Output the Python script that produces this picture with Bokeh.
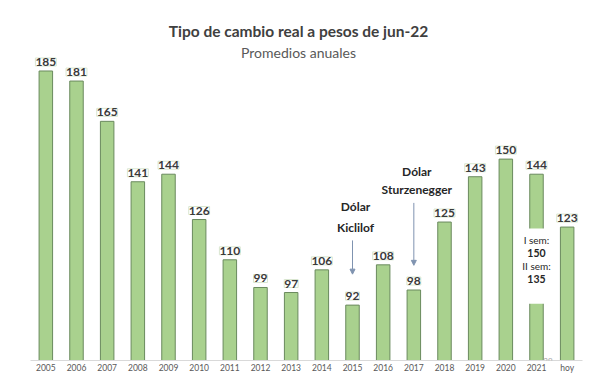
from bokeh.plotting import figure
from bokeh.models import ColumnDataSource, FactorRange, Range1d, LabelSet, Label, Arrow, NormalHead
from bokeh.core.properties import value
from bokeh.embed import file_html
from bokeh.resources import INLINE

# ---- data ----
years = ["2005", "2006", "2007", "2008", "2009", "2010", "2011", "2012", "2013",
         "2014", "2015", "2016", "2017", "2018", "2019", "2020", "2021", "hoy"]
tcr = [185, 181, 165, 141, 144, 126, 110, 99, 97, 106, 92, 108, 98, 125, 143, 150, 144, 123]
sem_labels = ["I sem:", "II sem:"]
sem_values = [150, 135]
ann_cats = ["2015", "2017"]
ann_lines = [["Dólar", "Kiclilof"], ["Dólar", "Sturzenegger"]]
title_text = "Tipo de cambio real a pesos de jun-22"
subtitle_text = "Promedios anuales"

FONT = "Lato"

src = ColumnDataSource(dict(x=years, v=tcr, t=[str(v) for v in tcr]))

p = figure(x_range=FactorRange(factors=years, range_padding=0),
           y_range=Range1d(70, 213.0),
           width=583, height=375, output_backend="svg", toolbar_location=None,
           title_location=None,
           min_border_left=30, min_border_right=1, min_border_top=0, min_border_bottom=0)
p.background_fill_color = "white"
p.border_fill_color = "white"
p.outline_line_color = None
p.xgrid.visible = False
p.ygrid.visible = False
p.yaxis.visible = False

p.xaxis.axis_line_color = "#d9d9d9"
p.xaxis.major_tick_line_color = None
p.xaxis.minor_tick_line_color = None
p.xaxis.major_tick_out = 0
p.xaxis.major_tick_in = 0
p.xaxis.minor_tick_out = 0
p.xaxis.major_label_text_font_size = "8.5px"
p.xaxis.major_label_text_color = "#595959"
p.xaxis.major_label_text_font = FONT
p.xaxis.major_label_standoff = 2

p.vbar(x="x", top="v", bottom=0, width=0.44, source=src,
       fill_color="#a9d18e", line_color="#6a8a5e", line_width=1)

labels = LabelSet(x="x", y="v", text="t", source=src, text_align="center",
                  text_baseline="middle", y_offset=9, text_font=value(FONT),
                  text_font_size="12px", text_font_style="bold", text_color="#3a3a3a",
                  background_fill_color="white", border_line_color="#d9e6d0")
p.add_layout(labels)

# semester box on 2021
p.rect(x=["2021"], y=[107.45], width=36, height=29.9, width_units="screen",
       fill_color="white", line_color=None)
p.text(x=["2021", "2021"], y=[117.7, 107.4], text=sem_labels, text_align="center",
       text_baseline="middle", text_font=value(FONT), text_font_size="10px",
       text_color="#262626")
p.text(x=["2021", "2021"], y=[112.6, 102.3], text=[str(v) for v in sem_values],
       text_align="center", text_baseline="middle", text_font=value(FONT),
       text_font_size="10.5px", text_font_style="bold", text_color="#262626")

# annotations
ann_y = [[131.1, 122.8], [144.9, 137.8]]
for cat, lines, ys in zip(ann_cats, ann_lines, ann_y):
    p.text(x=[cat] * len(lines), y=ys, text=lines, text_align="center",
           text_baseline="middle", x_offset=3, text_font=value(FONT),
           text_font_size="12px", text_font_style="bold", text_color="#262626")

arr_src = ColumnDataSource(dict(x=ann_cats, y0=[117.7, 132.6], y1=[104.3, 107.8]))
p.add_layout(Arrow(end=NormalHead(size=5, fill_color="#7f93b0", line_color="#7f93b0"),
                   x_start="x", y_start="y0", x_end="x", y_end="y1", source=arr_src,
                   line_color="#7f93b0", line_width=1))

# titles
p.add_layout(Label(x=8.74, y=200.8, text=title_text, text_align="center",
                   text_baseline="middle", text_font=FONT, text_font_size="15.5px",
                   text_font_style="bold", text_color="#404040"))
p.add_layout(Label(x=8.74, y=192.5, text=subtitle_text, text_align="center",
                   text_baseline="middle", text_font=FONT, text_font_size="14px",
                   text_color="#595959"))
p.add_layout(Label(x=16.875, y=70, text="29", text_align="center",
                   text_baseline="middle", text_font=FONT, text_font_size="8px",
                   text_color="#a6a6a6"))

open("out.html", "w").write(file_html(p, INLINE))
